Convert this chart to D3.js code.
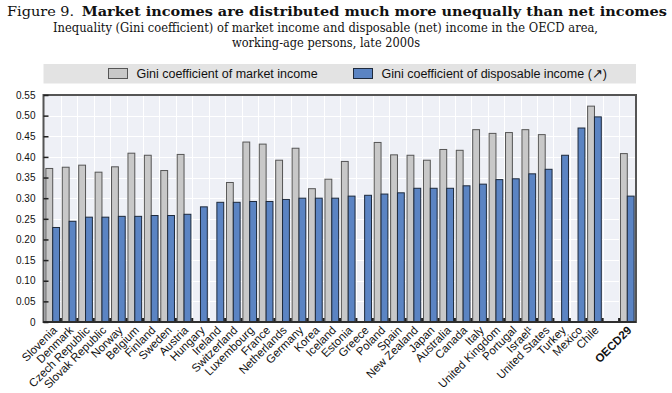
<!DOCTYPE html>
<html><head><meta charset="utf-8">
<script src="https://cdn.jsdelivr.net/npm/d3@7"></script>
<style>body{margin:0;background:#fff}</style>
</head><body><svg id="c" width="672" height="393"></svg>
<script>
const countries = ["Slovenia","Denmark","Czech Republic","Slovak Republic","Norway","Belgium","Finland","Sweden","Austria","Hungary","Ireland","Switzerland","Luxembourg","France","Netherlands","Germany","Korea","Iceland","Estonia","Greece","Poland","Spain","New Zealand","Japan","Australia","Canada","Italy","United Kingdom","Portugal","Israel\u00B9","United States","Turkey","Mexico","Chile","","OECD29"];
const marketGini = [0.372,0.375,0.380,0.363,0.376,0.409,0.404,0.367,0.406,null,null,0.338,0.436,0.431,0.392,0.421,0.323,0.346,0.389,null,0.435,0.405,0.404,0.392,0.418,0.416,0.466,0.457,0.459,0.466,0.454,null,null,0.523,null,0.408];
const disposableGini = [0.229,0.244,0.254,0.254,0.256,0.256,0.258,0.258,0.261,0.279,0.290,0.290,0.292,0.292,0.297,0.300,0.300,0.300,0.305,0.307,0.310,0.313,0.324,0.324,0.324,0.330,0.334,0.345,0.347,0.359,0.370,0.404,0.470,0.497,null,0.305];
const yTicks = [0,0.05,0.10,0.15,0.20,0.25,0.30,0.35,0.40,0.45,0.50,0.55];
const seriesNames = ["Gini coefficient of market income","Gini coefficient of disposable income (\u2197)"];

const svg = d3.select("#c");
const L = 44.5, R = 635.5, T = 95, B = 322;
const x = d3.scaleBand().domain(d3.range(countries.length)).range([L, R]).padding(0);
const xs = d3.scaleBand().domain([0,1]).range([0, x.bandwidth()]).paddingInner(0).paddingOuter(0.2);
const y = d3.scaleLinear().domain([0,0.55]).range([B, T]);
const colors = ["#c8c8c8", "#5b84c3"];
const strokes = ["#555", "#1e2a3c"];

// Title
const title = svg.append("text").attr("x", 7).attr("y", 16)
  .attr("font-family", "DejaVu Serif, serif").attr("font-size", 13.5).attr("fill", "#111");
title.append("tspan").text("Figure 9.");
title.append("tspan").attr("dx", 7).attr("font-weight", "bold").text("Market incomes are distributed much more unequally than net incomes");
// fit to reference width
const tw = title.node().getComputedTextLength();
if (tw > 0) title.attr("textLength", 660).attr("lengthAdjust", "spacingAndGlyphs");

svg.append("text").attr("x", 53).attr("y", 32)
  .attr("font-family", "DejaVu Serif, serif").attr("font-size", 12).attr("fill", "#111")
  .attr("textLength", 545).attr("lengthAdjust", "spacingAndGlyphs")
  .text("Inequality (Gini coefficient) of market income and disposable (net) income in the OECD area,");
svg.append("text").attr("x", 232).attr("y", 47)
  .attr("font-family", "DejaVu Serif, serif").attr("font-size", 12).attr("fill", "#111")
  .attr("textLength", 188).attr("lengthAdjust", "spacingAndGlyphs")
  .text("working-age persons, late 2000s");

// Legend
svg.append("rect").attr("x", 43.5).attr("y", 64).attr("width", 592.5).attr("height", 19.5).attr("fill", "#e3e3e3");
const legX = [108.5, 353.5];
seriesNames.forEach((n, i) => {
  svg.append("rect").attr("x", legX[i]).attr("y", 68.5).attr("width", 19).attr("height", 10)
    .attr("fill", colors[i]).attr("stroke", strokes[i]).attr("stroke-width", 1);
  svg.append("text").attr("x", legX[i] + 28).attr("y", 77.5)
    .attr("font-family", "Liberation Sans Narrow, Arial Narrow, sans-serif").attr("font-size", 12.5)
    .attr("fill", "#111").text(n);
});

// Plot background
svg.append("rect").attr("x", 43.5).attr("y", T).attr("width", 592.5).attr("height", B - T).attr("fill", "#eef0f6");
// Grid
svg.append("g").selectAll("line").data(yTicks.slice(1, -1)).join("line")
  .attr("x1", 43.5).attr("x2", 636).attr("y1", d => Math.round(y(d)) + 0.5).attr("y2", d => Math.round(y(d)) + 0.5)
  .attr("stroke", "#fff").attr("stroke-width", 1);
svg.append("g").selectAll("line").data(d3.range(1, countries.length)).join("line")
  .attr("x1", d => Math.round(x(d)) + 0.5).attr("x2", d => Math.round(x(d)) + 0.5).attr("y1", T).attr("y2", B)
  .attr("stroke", "#fff").attr("stroke-width", 1);

// Bars
const series = [marketGini, disposableGini];
series.forEach((vals, s) => {
  svg.append("g").selectAll("rect").data(vals.map((v, i) => ({v, i})).filter(d => d.v != null)).join("rect")
    .attr("x", d => x(d.i) + xs(s)).attr("width", xs.bandwidth())
    .attr("y", d => y(d.v)).attr("height", d => B - y(d.v))
    .attr("fill", colors[s]).attr("stroke", strokes[s]).attr("stroke-width", 1);
});

// bottom tick marks at band boundaries
svg.append("g").selectAll("rect").data(d3.range(1, countries.length)).join("rect")
  .attr("x", d => x(d) - 1).attr("y", B - 4).attr("width", 2).attr("height", 4).attr("fill", "#222");

// Frame
svg.append("rect").attr("x", 43.5).attr("y", T).attr("width", 592.5).attr("height", B - T)
  .attr("fill", "none").attr("stroke", "#555").attr("stroke-width", 2);
svg.append("line").attr("x1", 43).attr("x2", 636).attr("y1", B).attr("y2", B).attr("stroke", "#222").attr("stroke-width", 1.5);

// Y axis
const yAxis = svg.append("g").attr("transform", `translate(${43.5},0)`)
  .call(d3.axisLeft(y).tickValues(yTicks).tickSize(-5).tickPadding(8)
    .tickFormat(d => d === 0 ? "0" : d3.format(".2f")(d)));
yAxis.select(".domain").remove();
yAxis.selectAll("line").attr("stroke", "#222").attr("stroke-width", 1.5);
yAxis.selectAll("text").attr("font-family", "Liberation Sans, Arial, sans-serif").attr("font-size", 10).attr("fill", "#111");

// X axis labels
const xAxis = svg.append("g").attr("transform", `translate(0,${B})`)
  .call(d3.axisBottom(x).tickSize(0).tickPadding(0).tickFormat(i => countries[i]));
xAxis.select(".domain").remove();
xAxis.selectAll("text")
  .attr("font-family", "Liberation Sans Narrow, Arial Narrow, sans-serif").attr("font-size", 11.5).attr("fill", "#111")
  .attr("text-anchor", "end").attr("dy", null).attr("y", 0).attr("x", 0)
  .attr("transform", "translate(5,9) rotate(-45)")
  .attr("font-weight", i => countries[i] === "OECD29" ? "bold" : null);
</script></body></html>
